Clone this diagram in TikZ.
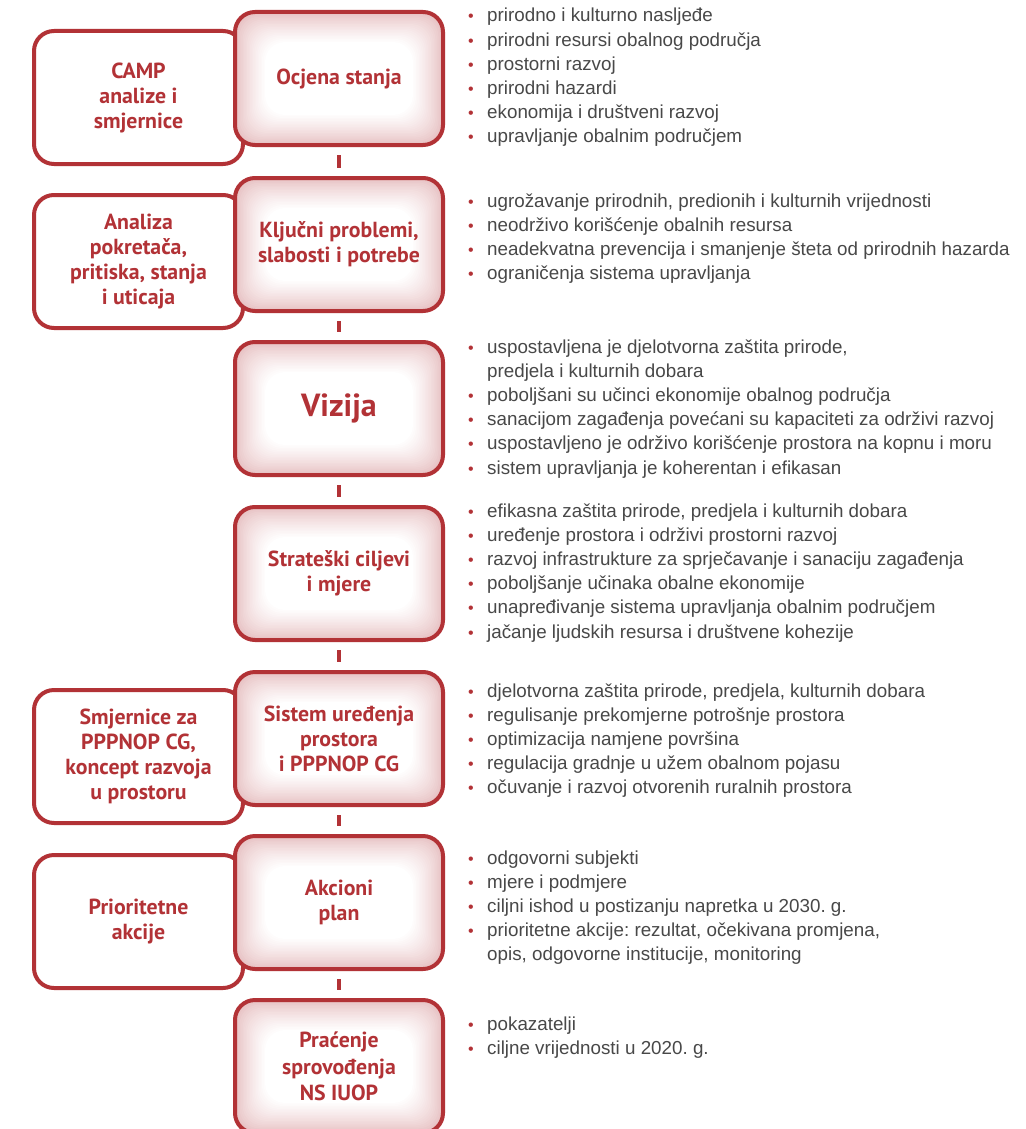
\documentclass[tikz,border=0pt]{standalone}
\usepackage{fontspec}
\setmainfont{Liberation Sans}
\newfontfamily\boxfont{PT Sans}
\frenchspacing
\definecolor{bred}{RGB}{178,50,54}
\definecolor{glowc}{RGB}{230,190,192}
\definecolor{txtg}{RGB}{72,72,72}
\newcommand\blt{\hspace*{1pt}\textcolor{bred}{\fontsize{16}{16}\selectfont •}}
\tikzset{
  glow/.style={path picture={
    \foreach \i in {0,...,20}{
      \pgfmathtruncatemacro\pc{100*(\i/20)^0.75}
      \pgfmathsetmacro\dd{\i*1.5}
      \fill[white!\pc!glowc, rounded corners=20pt]
        ([xshift=\dd pt, yshift=-\dd pt]path picture bounding box.north west)
        rectangle ([xshift=-\dd pt, yshift=\dd pt]path picture bounding box.south east);
    }}},
  boxtext/.style={align=center, text=bred, font=\boxfont\bfseries\fontsize{21.8}{25}\selectfont},
  cbox/.style={rectangle, rounded corners=20pt, draw=bred, line width=4pt,
    minimum width=208pt, minimum height=133pt, inner sep=0pt, glow, boxtext},
  lbox/.style={rectangle, rounded corners=20pt, draw=bred, line width=4pt, fill=white,
    minimum width=209pt, minimum height=133pt, inner sep=0pt, boxtext},
  conn/.style={draw=bred, line width=4pt, shorten <=8pt, shorten >=8pt},
  listnode/.style={anchor=base west, inner sep=0pt, text=txtg,
    font=\fontsize{18.8}{24.2}\selectfont}
}
\begin{document}
\begin{tikzpicture}[x=1pt,y=-1pt]
\useasboundingbox[fill=white] (0,0) rectangle (1025,1129);
% left boxes
\node[lbox] (l1) at (138.5,97.5) {CAMP\\analize i\\smjernice};
\node[lbox] (l2) at (138.5,261.5) {Analiza\\pokretača,\\pritiska, stanja\\i uticaja};
\node[lbox] (l5) at (138.5,756.5) {Smjernice za\\PPPNOP CG,\\koncept razvoja\\u prostoru};
\node[lbox] (l6) at (138.5,921.5) {Prioritetne\\akcije};
% centre boxes
\node[cbox] (c1) at (339,78.5) {Ocjena stanja};
\node[cbox] (c2) at (339,244.5) {Ključni problemi,\\slabosti i potrebe};
\node[cbox, font=\boxfont\bfseries\fontsize{32}{36}\selectfont] (c3) at (339,408.5) {Vizija};
\node[cbox] (c4) at (339,573.5) {Strateški ciljevi\\i mjere};
\node[cbox] (c5) at (339,738.5) {Sistem uređenja\\prostora\\i PPPNOP CG};
\node[cbox] (c6) at (339,902.5) {Akcioni\\plan};
\node[cbox, font=\boxfont\bfseries\fontsize{21.8}{26.5}\selectfont] (c7) at (339,1066.5) {Praćenje\\sprovođenja\\NS IUOP};
% connectors
\draw[conn] (c1) -- (c2);
\draw[conn] (c2) -- (c3);
\draw[conn] (c3) -- (c4);
\draw[conn] (c4) -- (c5);
\draw[conn] (c5) -- (c6);
\draw[conn] (c6) -- (c7);
% lists
\node[listnode] (t1) at (467,22) {\begin{tabular}[t]{@{}p{20pt}@{}l@{}}
\blt & prirodno i kulturno nasljeđe\\
\blt & prirodni resursi obalnog područja\\
\blt & prostorni razvoj\\
\blt & prirodni hazardi\\
\blt & ekonomija i društveni razvoj\\
\blt & upravljanje obalnim područjem
\end{tabular}};
\node[listnode] (t2) at (467,207) {\begin{tabular}[t]{@{}p{20pt}@{}l@{}}
\blt & ugrožavanje prirodnih, predionih i kulturnih vrijednosti\\
\blt & neodrživo korišćenje obalnih resursa\\
\blt & neadekvatna prevencija i smanjenje šteta od prirodnih hazarda\\
\blt & ograničenja sistema upravljanja
\end{tabular}};
\node[listnode] (t3) at (467,353) {\begin{tabular}[t]{@{}p{20pt}@{}l@{}}
\blt & uspostavljena je djelotvorna zaštita prirode,\\
 & predjela i kulturnih dobara\\
\blt & poboljšani su učinci ekonomije obalnog područja\\
\blt & sanacijom zagađenja povećani su kapaciteti za održivi razvoj\\
\blt & uspostavljeno je održivo korišćenje prostora na kopnu i moru\\
\blt & sistem upravljanja je koherentan i efikasan
\end{tabular}};
\node[listnode] (t4) at (467,517) {\begin{tabular}[t]{@{}p{20pt}@{}l@{}}
\blt & efikasna zaštita prirode, predjela i kulturnih dobara\\
\blt & uređenje prostora i održivi prostorni razvoj\\
\blt & razvoj infrastrukture za sprječavanje i sanaciju zagađenja\\
\blt & poboljšanje učinaka obalne ekonomije\\
\blt & unapređivanje sistema upravljanja obalnim područjem\\
\blt & jačanje ljudskih resursa i društvene kohezije
\end{tabular}};
\node[listnode] (t5) at (467,697) {\begin{tabular}[t]{@{}p{20pt}@{}l@{}}
\blt & djelotvorna zaštita prirode, predjela, kulturnih dobara\\
\blt & regulisanje prekomjerne potrošnje prostora\\
\blt & optimizacija namjene površina\\
\blt & regulacija gradnje u užem obalnom pojasu\\
\blt & očuvanje i razvoj otvorenih ruralnih prostora
\end{tabular}};
\node[listnode] (t6) at (467,864) {\begin{tabular}[t]{@{}p{20pt}@{}l@{}}
\blt & odgovorni subjekti\\
\blt & mjere i podmjere\\
\blt & ciljni ishod u postizanju napretka u 2030. g.\\
\blt & prioritetne akcije: rezultat, očekivana promjena,\\
 & opis, odgovorne institucije, monitoring
\end{tabular}};
\node[listnode] (t7) at (467,1030) {\begin{tabular}[t]{@{}p{20pt}@{}l@{}}
\blt & pokazatelji\\
\blt & ciljne vrijednosti u 2020. g.
\end{tabular}};
\end{tikzpicture}
\end{document}
